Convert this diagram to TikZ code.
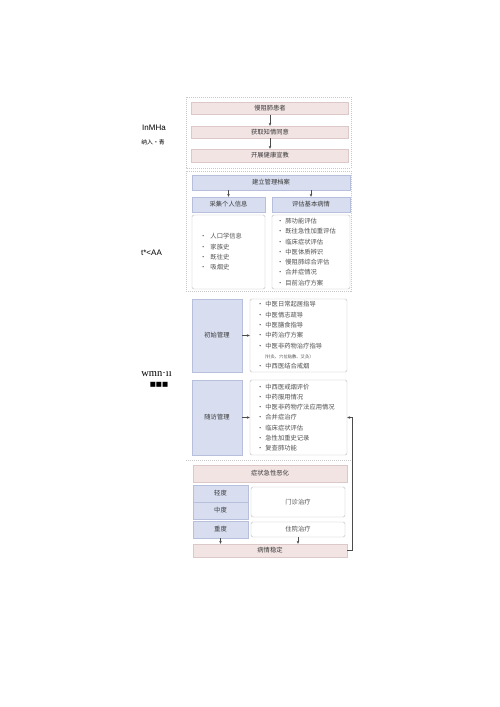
\documentclass[tikz,border=0pt]{standalone}
\usepackage{fontspec}
\setmainfont{Liberation Serif}
\setsansfont{Liberation Sans}
\newfontfamily\cjk{Noto Sans CJK SC}
\newfontfamily\symfont{DejaVu Sans}
\usetikzlibrary{arrows.meta}

\definecolor{pinkfill}{HTML}{F3E4E4}
\definecolor{pinkline}{HTML}{DCC8C8}
\definecolor{bluefill}{HTML}{D8DEF0}
\definecolor{blueline}{HTML}{B6BFDB}
\definecolor{listline}{HTML}{BBBBBB}
\definecolor{txt}{HTML}{505050}
\definecolor{headtxt}{HTML}{383838}
\definecolor{frameline}{HTML}{C8C8C8}

\tikzset{
  boxtext/.style={font=\cjk\fontsize{6.3}{10.3}\selectfont, text=txt, inner sep=0pt},
  pinkbox/.style={boxtext, draw=pinkline, fill=pinkfill, text=headtxt},
  bluebox/.style={boxtext, draw=blueline, fill=bluefill, text=headtxt},
  listbox/.style={boxtext, draw=listline, fill=white, rounded corners=1.5pt, align=left},
  whitebox/.style={boxtext, draw=listline, fill=white, rounded corners=1.5pt},
  frame/.style={draw=frameline, dashed, dash pattern=on 1pt off 1pt},
  arr/.style={draw=black!70, line width=0.5pt, -{Stealth[length=3pt,width=2.6pt]}},
  sidelabel/.style={font=\sffamily\fontsize{8}{9}\selectfont, inner sep=0pt}
}

\begin{document}
\begin{tikzpicture}[x=1pt,y=-1pt]
\useasboundingbox[fill=white] (0,0) rectangle (500,707);

% intake
\draw[frame] (186,97) rectangle (351,168);
\node[pinkbox, minimum width=157, minimum height=12] (patient) at (270,108.5) {慢阻肺患者};
\node[pinkbox, minimum width=157, minimum height=12] (consent) at (270,132) {获取知情同意};
\node[pinkbox, minimum width=157, minimum height=13] (educate) at (270,155.5) {开展健康宣教};
\draw[arr] (patient) -- (consent);
\draw[arr] (consent) -- (educate);

% records
\draw[frame] (186,171) rectangle (351,291);
\node[bluebox, minimum width=158, minimum height=15] (record) at (271,182.5) {建立管理档案};
\node[bluebox, minimum width=73, minimum height=15] (collect) at (228.5,204.5) {采集个人信息};
\node[bluebox, minimum width=78, minimum height=15] (assess) at (311,204.5) {评估基本病情};
\draw[arr] (record.south -| collect) -- (collect);
\draw[arr] (record.south -| assess) -- (assess);

\node[listbox, minimum width=73, minimum height=74, text width=57, inner xsep=8] (collectlist) at (228.5,252)
  {•\ \ 人口学信息\\•\ \ 家族史\\•\ \ 既往史\\•\ \ 吸烟史};
\node[listbox, minimum width=78, minimum height=74, text width=68, inner xsep=5] (assesslist) at (311,252)
  {•\ 肺功能评估\\•\ 既往急性加重评估\\•\ 临床症状评估\\•\ 中医体质辨识\\•\ 慢阻肺综合评估\\•\ 合并症情况\\•\ 目前治疗方案};

% management
\node[bluebox, minimum width=50, minimum height=73] (initial) at (217,335.5) {初始管理};
\node[listbox, minimum width=97, minimum height=73, text width=83, inner xsep=7] (initlist) at (298.5,335.5)
  {•\ 中医日常起居指导\\•\ 中医情志疏导\\•\ 中医膳食指导\\•\ 中药治疗方案\\•\ 中医非药物治疗指导\\
   \hspace*{5pt}{\fontsize{4.3}{5}\selectfont （针灸、穴位贴敷、艾灸）}\\•\ 中西医结合戒烟};
\draw[arr] (initial) -- (initlist);

\node[bluebox, minimum width=50, minimum height=75] (followup) at (217,417.5) {随访管理};
\node[listbox, minimum width=97, minimum height=75, text width=83, inner xsep=7] (followlist) at (298.5,417.5)
  {•\ 中西医戒烟评价\\•\ 中药服用情况\\•\ 中医非药物疗法应用情况\\•\ 合并症治疗\\•\ 临床症状评估\\•\ 急性加重史记录\\•\ 复查肺功能};
\draw[arr] (followup) -- (followlist);

% exacerbation
\draw[frame] (186,460) -- (351,460);
\node[pinkbox, minimum width=154, minimum height=17] (worse) at (270,473.5) {症状急性恶化};
\node[bluebox, minimum width=55, minimum height=17] (mild) at (220.5,493.5) {轻度};
\node[bluebox, minimum width=55, minimum height=17] (moderate) at (220.5,510.5) {中度};
\node[bluebox, minimum width=55, minimum height=17] (severe) at (220.5,529.5) {重度};
\node[whitebox, minimum width=94, minimum height=30] (clinic) at (298,502) {门诊治疗};
\node[whitebox, minimum width=94, minimum height=15] (hospital) at (298,529.5) {住院治疗};
\node[pinkbox, minimum width=154, minimum height=13] (stable) at (270,550.5) {病情稳定};
\draw[arr] (severe) -- (severe |- stable.north);
\draw[arr] (hospital) -- (hospital |- stable.north);
\draw[arr] (stable.east) -- ++(5,0) |- (followlist.east);

% side labels
\node[sidelabel] (lab1) at (154,128) {InMHa};
\node[font=\cjk\fontsize{5.8}{7}\selectfont, inner sep=0pt] (lab2) at (153,142) {纳入·青};
\node[sidelabel] (lab3) at (151.5,253) {t*<AA};
\node[font=\fontsize{10.5}{12}\selectfont, inner sep=0pt] (lab4) at (156.5,374) {wmn·ıı};
\node[font=\symfont\fontsize{6.5}{8}\selectfont, inner sep=0pt] (lab5) at (159,385) {■■■};
\end{tikzpicture}
\end{document}
